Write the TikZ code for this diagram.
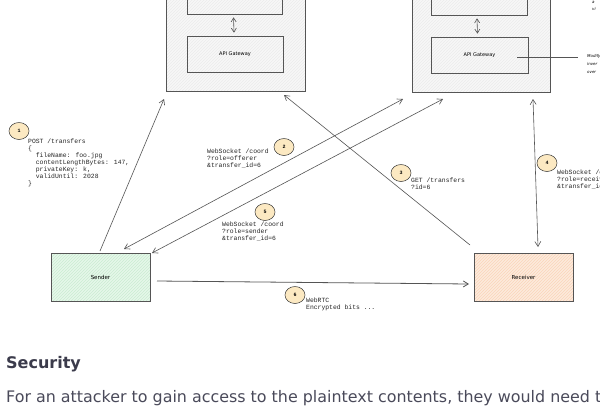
\documentclass[tikz,border=0pt]{standalone}
\usepackage{fontspec}
\setmainfont{DejaVu Sans}
\newfontfamily\codefont{Liberation Mono}
\newfontfamily\handfont{DejaVu Sans}
\usetikzlibrary{arrows.meta,patterns,shapes.geometric}
\definecolor{edge}{HTML}{555555}
\definecolor{srvfill}{HTML}{F7F7F7}
\definecolor{srvhatch}{HTML}{ECECEC}
\definecolor{sndfill}{HTML}{E6F7E9}
\definecolor{sndhatch}{HTML}{CBEDD2}
\definecolor{rcvfill}{HTML}{FDEADC}
\definecolor{rcvhatch}{HTML}{FAD5BA}
\definecolor{badgefill}{HTML}{FCE9C2}
\definecolor{bodytext}{HTML}{4A4A5A}
\definecolor{headtext}{HTML}{3B3B4B}
\tikzset{
  server/.style={draw=edge, line width=0.7pt, preaction={fill=srvfill}, pattern=north east lines, pattern color=srvhatch, inner sep=0pt},
  inbox/.style={draw=edge, line width=0.7pt, fill=white, preaction={fill=srvfill}, pattern=north east lines, pattern color=srvhatch, inner sep=0pt, font=\handfont\fontsize{5}{6}\selectfont},
  sendbox/.style={draw=edge, line width=0.7pt, preaction={fill=sndfill}, pattern=north east lines, pattern color=sndhatch, minimum width=99pt, minimum height=48pt, inner sep=0pt, font=\handfont\fontsize{5.5}{6}\selectfont},
  recvbox/.style={draw=edge, line width=0.7pt, preaction={fill=rcvfill}, pattern=north east lines, pattern color=rcvhatch, minimum width=99pt, minimum height=48pt, inner sep=0pt, font=\handfont\fontsize{5.5}{6}\selectfont},
  badge/.style={ellipse, draw=black!80, line width=0.5pt, fill=badgefill, minimum width=20pt, minimum height=17pt, inner sep=0pt, font=\codefont\fontsize{5}{6}\selectfont\bfseries},
  code/.style={anchor=north west, inner sep=0pt, align=left, text=black!85, font=\codefont\fontsize{6.4}{7}\selectfont},
  conn/.style={draw=edge, line width=0.6pt, -{Straight Barb[length=5pt,width=6pt]}},
  bconn/.style={draw=edge, line width=0.6pt, {Straight Barb[length=5pt,width=6pt]}-{Straight Barb[length=5pt,width=6pt]}},
  inner/.style={draw=edge, line width=0.6pt, {Straight Barb[length=4pt,width=5pt]}-{Straight Barb[length=4pt,width=5pt]}},
}
\begin{document}
\begin{tikzpicture}[x=1pt,y=-1pt]
\useasboundingbox[fill=white] (0,0) rectangle (600,408);

% servers
\node[server, minimum width=139pt, minimum height=111pt] (ls) at (235.5,35.5) {};
\node[inbox, minimum width=95pt, minimum height=34pt] (lt) at (234.5,-3) {};
\node[inbox, minimum width=96pt, minimum height=36pt] (lg) at (235,54) {API Gateway};
\path (lt.south) ++(-1,3) coordinate (lta) (lg.north) ++(-1,-3) coordinate (lgb);
\draw[inner] (lta) -- (lgb);

\node[server, minimum width=138pt, minimum height=112pt] (rs) at (481,36) {};
\node[inbox, minimum width=96pt, minimum height=35pt] (rt) at (479,-2.5) {};
\node[inbox, minimum width=97pt, minimum height=36pt] (rg) at (479.5,55) {API Gateway};
\path (rt.south) ++(-2,3) coordinate (rta) (rg.north) ++(-2,-3) coordinate (rgb);
\draw[inner] (rta) -- (rgb);

% side note
\coordinate (noteA) at (517,57);
\coordinate (noteB) at (578,57);
\draw[draw=edge, line width=0.6pt] (noteA) -- (noteB);
\node[anchor=west, inner sep=0pt, font=\handfont\fontsize{4}{5}\selectfont\itshape] (n1) at (587,56) {Modify};
\node[anchor=west, inner sep=0pt, font=\handfont\fontsize{4}{5}\selectfont\itshape] (n2) at (587,64) {inver};
\node[anchor=west, inner sep=0pt, font=\handfont\fontsize{4}{5}\selectfont\itshape] (n3) at (587,72) {over};
\node[anchor=west, inner sep=0pt, font=\handfont\fontsize{4}{5}\selectfont\itshape] (n4) at (592,2) {a};
\node[anchor=west, inner sep=0pt, font=\handfont\fontsize{4}{5}\selectfont\itshape] (n5) at (592,9) {vi};

% clients
\node[sendbox] (snd) at (100.5,277) {Sender};
\node[recvbox] (rcv) at (523.5,277) {Receiver};

% connector end points
\coordinate (a1s) at (100,251);
\coordinate (a1e) at (164,99);
\coordinate (a2s) at (124,249);
\coordinate (a2e) at (403,99);
\coordinate (a5s) at (152,253);
\coordinate (a5e) at (443,99);
\coordinate (a3s) at (470,245);
\coordinate (a3e) at (284,95);
\coordinate (a4s) at (533,99);
\coordinate (a4e) at (538,247);
\coordinate (a6s) at (157,281);
\coordinate (a6e) at (469,284);

\draw[conn] (a1s) -- (a1e);
\draw[bconn] (a2s) -- (a2e);
\draw[bconn] (a5s) -- (a5e);
\draw[conn] (a3s) -- (a3e);
\draw[bconn] (a4s) -- (a4e);
\draw[conn, line width=0.8pt] (a6s) -- (a6e);

% badges
\node[badge] (b1) at (19,131) {1};
\node[badge] (b2) at (284,147) {2};
\node[badge] (b3) at (401,173) {3};
\node[badge] (b4) at (547,163) {4};
\node[badge] (b5) at (265,212) {5};
\node[badge] (b6) at (295,295) {6};

% labels
\node[code] (t1) at (28,139) {POST /transfers\\\{\\\ \ fileName: foo.jpg\\\ \ contentLengthBytes: 147,\\\ \ privateKey: k,\\\ \ validUntil: 2028\\\}};
\node[code] (t2) at (207,149) {WebSocket /coord\\?role=offerer\\\&transfer\_id=6};
\node[code] (t3) at (411,178) {GET /transfers\\?id=6};
\node[code] (t4) at (557,170) {WebSocket /coord\\?role=receiver\\\&transfer\_id=6};
\node[code] (t5) at (222,222) {WebSocket /coord\\?role=sender\\\&transfer\_id=6};
\node[code] (t6) at (306,298) {WebRTC\\Encrypted bits ...};

% page text
\node[anchor=base west, inner sep=0pt, text=headtext, font=\fontsize{16}{18}\selectfont\bfseries] (sec) at (6,368) {Security};
\node[anchor=base west, inner sep=0pt, text=bodytext, font=\fontsize{15.9}{18}\selectfont] (body) at (6,402) {For an attacker to gain access to the plaintext contents, they would need to};
\end{tikzpicture}
\end{document}
